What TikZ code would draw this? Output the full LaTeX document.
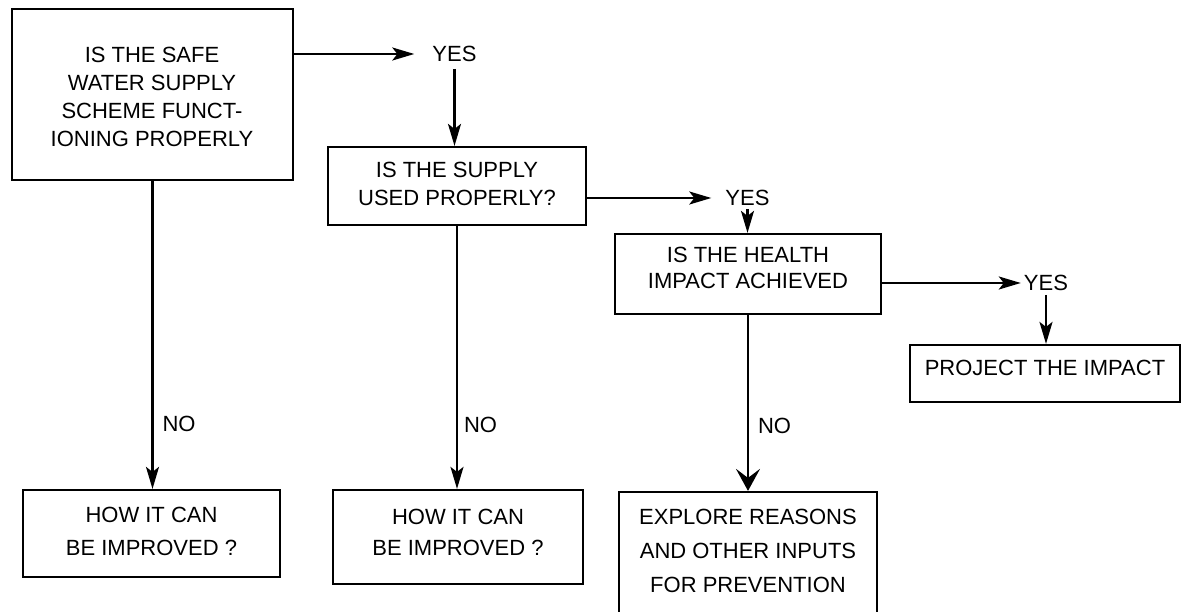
\documentclass[tikz,border=0pt]{standalone}
\usepackage{fontspec}
\setmainfont{Liberation Sans}
\usetikzlibrary{arrows.meta}
\begin{document}
\begin{tikzpicture}[x=1pt,y=-1pt,
  box/.style={draw, line width=2.2pt, inner sep=0pt},
  txt/.style={align=center, inner sep=0pt, font=\fontsize{22}{#1}\selectfont},
  txt/.default=28,
  lab/.style={inner sep=0pt, font=\fontsize{22}{26}\selectfont},
  arr/.style={line width=2.2pt, -{Stealth[length=22pt,width=13pt,inset=5pt]}},
  warr/.style={line width=2.2pt, -{Stealth[length=22pt,width=24pt,inset=9pt]}}
]
\useasboundingbox (0,0) rectangle (1184,612);

% boxes
\node[box, minimum width=281pt, minimum height=171pt] (b1) at (152.5,94.5) {};
\node[box, minimum width=258pt, minimum height=78pt] (b2) at (457,186) {};
\node[box, minimum width=266pt, minimum height=80pt] (b3) at (748,274) {};
\node[box, minimum width=270pt, minimum height=57pt] (b4) at (1045,373.5) {};
\node[box, minimum width=257pt, minimum height=87pt] (b5) at (151.5,533.5) {};
\node[box, minimum width=250pt, minimum height=94pt] (b6) at (458,537) {};
\node[box, minimum width=258pt, minimum height=138pt] (b7) at (748,561) {};

% texts
\node[txt=28.2] (t1) at (152,97) {IS THE SAFE\\WATER SUPPLY\\SCHEME FUNCT-\\IONING PROPERLY};
\node[txt=28] (t2) at (457,184) {IS THE SUPPLY\\USED PROPERLY?};
\node[txt=26] (t3) at (748,268) {IS THE HEALTH\\IMPACT ACHIEVED};
\node[txt] (t4) at (1045,368) {PROJECT THE IMPACT};
\node[txt=33] (t5) at (151.5,531.5) {HOW IT CAN\\BE IMPROVED ?};
\node[txt=31] (t6) at (458,532.5) {HOW IT CAN\\BE IMPROVED ?};
\node[txt=34] (t7) at (748,551) {EXPLORE REASONS\\AND OTHER INPUTS\\FOR PREVENTION};

% yes labels
\node[lab] (y1) at (454.5,54) {YES};
\node[lab] (y2) at (747.5,198) {YES};
\node[lab] (y3) at (1046,283) {YES};

% yes connectors
\draw[arr, shorten >=18pt] (b1.east |- y1) -- (y1.west);
\draw[arr, shorten <=7pt] (y1.south) -- (y1.south |- b2.north);
\draw[arr, shorten >=14pt] (b2.east |- y2) -- (y2.west);
\draw[arr, shorten <=3pt] (y2.south) -- (y2.south |- b3.north);
\draw[arr, shorten >=3pt] (b3.east |- y3) -- (y3.west);
\draw[arr, shorten <=4pt] (y3.south) -- (y3.south |- b4.north);

% no connectors
\draw[arr] (b1.south) -- (b1.south |- b5.north)
  node[lab, pos=0.79, right, xshift=9pt] (n1) {NO};
\draw[arr] (b2.south) -- (b2.south |- b6.north)
  node[lab, pos=0.755, right, xshift=6pt] (n2) {NO};
\draw[warr] (b3.south) -- (b3.south |- b7.north)
  node[lab, pos=0.63, right, xshift=9pt] (n3) {NO};
\end{tikzpicture}
\end{document}
